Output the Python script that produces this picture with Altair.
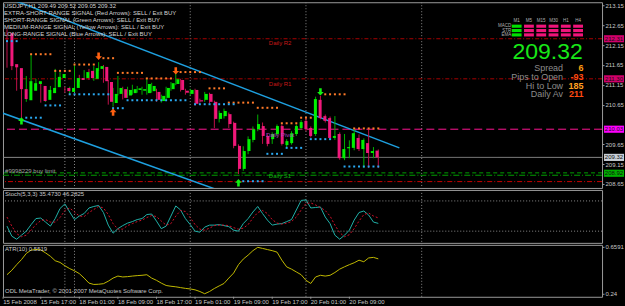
import altair as alt
import pandas as pd

# ---------------- chart values (USDJPY H1, bar 0 = 15 Feb 2008 10:00) ----------------
opens = [212.45, 211.67, 211.57, 211.04, 210.76, 211.00, 211.17, 211.12, 210.77, 210.94,
         211.09, 211.32, 211.07, 210.97, 211.07, 211.32, 211.32, 211.50, 211.30, 211.55,
         211.60, 211.22, 210.69, 210.92, 211.04, 210.88, 210.94, 211.02, 211.00, 210.94,
         210.99, 210.97, 210.74, 210.82, 211.04, 211.17, 211.27, 211.00, 210.92, 211.02,
         210.76, 210.77, 210.92, 210.72, 210.29, 210.36, 210.41, 210.19, 209.61, 209.03,
         209.48, 209.76, 210.03, 210.11, 209.86, 209.78, 209.91, 210.11, 209.63, 209.68,
         209.91, 210.06, 210.24, 210.06, 209.91, 210.77, 210.36, 210.31, 209.81, 209.91,
         209.30, 209.55, 209.56, 209.81, 209.53, 209.68, 209.43, 209.49]
highs = [212.55, 211.85, 211.62, 211.10, 211.37, 211.92, 211.30, 211.20, 211.05, 211.12,
         211.55, 211.47, 211.10, 211.10, 211.67, 211.40, 211.52, 211.55, 211.62, 211.72,
         211.65, 211.27, 211.07, 211.37, 211.10, 211.10, 211.15, 211.12, 211.10, 211.32,
         211.20, 211.05, 210.90, 211.10, 211.22, 211.50, 211.30, 211.05, 211.05, 211.05,
         210.80, 210.97, 210.95, 210.75, 210.50, 210.55, 210.45, 210.22, 209.65, 209.60,
         209.85, 210.10, 210.40, 210.20, 209.90, 209.95, 210.15, 210.15, 209.78, 209.98,
         210.15, 210.26, 210.30, 210.10, 210.85, 210.87, 210.40, 210.35, 210.36, 209.95,
         209.91, 209.75, 210.06, 209.90, 209.80, 210.06, 209.58, 209.52]
lows = [211.58, 211.52, 211.00, 210.31, 210.72, 210.95, 211.10, 210.70, 210.72, 210.90,
        211.05, 211.28, 210.95, 210.92, 211.02, 211.22, 211.28, 211.27, 211.25, 211.50,
        211.20, 210.65, 210.60, 210.88, 210.78, 210.82, 210.90, 210.95, 210.90, 210.90,
        210.95, 210.72, 210.70, 210.78, 211.00, 211.14, 210.98, 210.90, 210.88, 210.62,
        210.70, 210.72, 210.68, 210.06, 210.20, 210.30, 210.06, 209.55, 208.90, 208.98,
        209.40, 209.70, 209.98, 209.66, 209.60, 209.66, 209.86, 209.62, 209.58, 209.64,
        209.86, 210.02, 209.98, 209.82, 209.86, 210.28, 210.20, 209.76, 209.76, 209.26,
        209.25, 209.30, 209.50, 209.48, 209.05, 209.05, 209.30, 209.05]
closes = [211.62, 211.59, 211.04, 210.79, 211.24, 211.19, 211.24, 210.74, 211.02, 211.07,
          211.35, 211.42, 210.99, 211.07, 211.32, 211.27, 211.47, 211.32, 211.57, 211.62,
          211.24, 210.72, 210.92, 211.07, 210.82, 211.02, 211.04, 211.06, 211.04, 211.17,
          211.12, 210.77, 210.87, 211.07, 211.19, 211.29, 211.02, 210.95, 211.02, 210.67,
          210.73, 210.92, 210.72, 210.29, 210.44, 210.49, 210.16, 209.61, 209.03, 209.48,
          209.78, 210.03, 210.16, 209.86, 209.66, 209.91, 210.11, 209.66, 209.73, 209.93,
          210.11, 210.21, 210.03, 209.86, 210.79, 210.31, 210.24, 209.81, 209.86, 209.30,
          209.53, 209.58, 209.93, 209.53, 209.76, 209.43, 209.48, 209.32]

stoch_k = [30, 10, 4, 12, 20, 33, 45, 46, 38, 30,
           45, 65, 74, 58, 43, 50, 55, 66, 69, 71,
           57, 32, 16, 25, 31, 36, 39, 43, 45, 53,
           54, 40, 25, 30, 50, 70, 62, 45, 33, 20,
           18, 28, 32, 32, 33, 31, 29, 22, 20, 35,
           45, 58, 69, 55, 42, 32, 34, 35, 39, 43,
           62, 81, 82, 66, 67, 68, 48, 35, 12, 4,
           12, 22, 42, 57, 60, 52, 38, 35.4730]
stoch_d = [48, 30, 15, 9, 12, 22, 33, 41, 43, 38,
           38, 47, 61, 66, 58, 50, 49, 57, 63, 69,
           66, 53, 35, 24, 24, 31, 35, 39, 42, 47,
           51, 49, 40, 32, 35, 50, 61, 59, 47, 33,
           24, 22, 26, 31, 32, 32, 31, 27, 24, 26,
           33, 46, 57, 61, 55, 43, 36, 34, 36, 39,
           48, 62, 75, 76, 72, 67, 61, 50, 32, 17,
           9, 13, 25, 40, 53, 56, 50, 46.2825]
atr10 = [0.41, 0.45, 0.50, 0.545, 0.60, 0.63, 0.636, 0.632, 0.605, 0.575,
         0.535, 0.52, 0.49, 0.465, 0.445, 0.42, 0.38, 0.335, 0.323, 0.325,
         0.33, 0.352, 0.38, 0.398, 0.39, 0.393, 0.398, 0.402, 0.405, 0.41,
         0.38, 0.36, 0.335, 0.314, 0.307, 0.302, 0.295, 0.288, 0.283, 0.275,
         0.26, 0.24, 0.26, 0.287, 0.31, 0.332, 0.38, 0.425, 0.50, 0.55,
         0.585, 0.625, 0.655, 0.645, 0.635, 0.625, 0.612, 0.54, 0.48, 0.46,
         0.435, 0.41, 0.36, 0.332, 0.39, 0.405, 0.398, 0.405, 0.43, 0.46,
         0.481, 0.50, 0.517, 0.54, 0.526, 0.56, 0.565, 0.5519]

date_ticks = [-0.8, 7, 15, 23, 31, 39, 47, 55, 63, 71]
date_labels = ["15 Feb 2008", "15 Feb 17:00", "18 Feb 01:00", "18 Feb 09:00", "18 Feb 17:00",
               "19 Feb 01:00", "19 Feb 09:00", "19 Feb 17:00", "20 Feb 01:00", "20 Feb 09:00"]
price_ticks = [208.65, 209.15, 209.65, 210.65, 211.15, 211.65, 212.15, 212.65, 213.15]
stoch_ticks = [0, 20, 80, 100]
stoch_levels = [20, 80]
atr_ticks = [0.24, 0.6591]
separator_bars = [12, 14, 38, 62, 86]

level_names = ["R2", "R1", "Pivot", "Bid", "BuyLimit", "S1", "S2"]
level_prices = [212.31, 211.30, 210.03, 209.32, 208.93, 208.87, 208.71]

box_prices = [212.31, 211.30, 210.03, 209.32, 208.92]
box_kind = ["res", "res", "pivot", "bid", "buy"]

channel_line = ["upper", "upper", "lower", "lower"]
channel_bar = [1.86, 81.37, -1.24, 45.3]
channel_price = [213.26, 209.56, 210.45, 208.43]

sell_stop_from = [5, 10, 14, 20, 23, 29, 36, 42, 46, 52, 57, 61, 66, 72]
sell_stop_to = [9, 13, 18, 22, 28, 34, 40, 45, 51, 56, 60, 63, 70, 77]
sell_stop_price = [211.92, 211.50, 211.66, 211.82, 211.45, 211.31, 211.47, 211.06,
                   210.70, 210.57, 210.18, 210.32, 210.91, 210.05]
buy_stop_from = [0, 4, 8, 13, 22, 25, 39, 49, 54, 58, 63, 70]
buy_stop_to = [2, 7, 11, 21, 24, 37, 47, 53, 57, 61, 67, 77]
buy_stop_price = [212.25, 210.32, 210.63, 210.91, 210.56, 210.76, 210.66, 208.72,
                  209.41, 209.56, 209.78, 209.09]

arrow_bar = [3, 19, 22, 35, 48, 65]
arrow_price = [210.24, 211.87, 210.46, 211.50, 208.68, 210.97]
arrow_dir = ["up", "down", "up", "down", "up", "down"]
arrow_kind = ["short", "extra", "extra", "extra", "short", "short"]

label_text = ["Daily R2", "Daily R1", "Daily Pivot", "Daily S1", "#9998229 buy limit"]
label_bar = [54.3, 54.3, 53.7, 54.3, -0.4]
label_price = [212.20, 211.17, 209.88, 208.84, 208.97]
label_kind = ["res", "res", "pivot", "sup", "order"]

signal_lines = [
    "USDJPY,H1  %.2f %.2f %.2f %.2f" % (opens[-1], highs[-1], lows[-1], closes[-1]),
    "EXTRA-SHORT-RANGE SIGNAL (Red Arrows): SELL / Exit BUY",
    "SHORT-RANGE SIGNAL (Green Arrows): SELL / Exit BUY",
    "MEDIUM-RANGE SIGNAL (Yellow Arrows): SELL / Exit BUY",
    "LONG-RANGE SIGNAL (Blue Arrows): SELL / Exit BUY",
]
tf_cols = ["M1", "M5", "M15", "M30", "H1", "H4"]
tf_rows = ["MACD", "STR", "EMA"]
tf_buy_cols = ["M1"]

info_labels = ["Spread", "Pips to Open", "Hi to Low", "Daily Av"]
info_values = [6, -93, 185, 211]

stoch_label = "Stoch(5,3,3) %.4f %.4f" % (stoch_k[-1], stoch_d[-1])
atr_label = "ATR(10) %.4f" % atr10[-1]
copyright_label = "ODL MetaTrader, \u00a9 2001-2007 MetaQuotes Software Corp."

# ---------------- styles ----------------
FONT = "Liberation Sans"
GRAY = "#c8c8c8"
W = 600
H_MAIN, H_ST, H_ATR = 186, 53, 52

xs = alt.Scale(domain=[-0.83, 123.4], nice=False, zero=False)
ps = alt.Scale(domain=[208.55, 213.23], nice=False, zero=False)
sts = alt.Scale(domain=[-3.2, 101.8], nice=False, zero=False)
ats = alt.Scale(domain=[0.213, 0.677], nice=False, zero=False)

level_style = {
    "R2": ("#a80000", [4, 2, 1, 2]),
    "R1": ("#a80000", [4, 2, 1, 2]),
    "Pivot": ("#ff1493", [8, 4]),
    "Bid": ("#8c8c8c", [1, 0]),
    "BuyLimit": ("#00a000", [4, 3]),
    "S1": ("#00a000", [6, 2, 1, 2]),
    "S2": ("#c80000", [5, 2, 1, 2]),
}


def bx(field="bar:Q"):
    return alt.X(field, scale=xs, axis=None)


def py(field, axis=None):
    if axis is None:
        return alt.Y(field, scale=ps, axis=None)
    return alt.Y(field, scale=ps, axis=axis)


def right_axis(values, **kw):
    return alt.Axis(orient="right", values=values, title=None, domain=False, grid=False,
                    tickSize=2, tickColor="#9a9a9a", labelColor=GRAY, labelFontSize=6,
                    labelFont=FONT, labelPadding=1, labelOverlap=False, labelFlush=False,
                    **kw)


# ---------------- data frames ----------------
n = len(opens)
candles = pd.DataFrame({"bar": list(range(n)), "open": opens, "high": highs,
                        "low": lows, "close": closes})
candles["dir"] = ["up" if c >= o else "down" for o, c in zip(opens, closes)]

sep_df = pd.DataFrame({"bar": separator_bars})
levels_df = pd.DataFrame({"name": level_names, "price": level_prices})
channel_df = pd.DataFrame({"line": channel_line, "bar": channel_bar, "price": channel_price})

dot_rows = []
for a, b, p in zip(sell_stop_from, sell_stop_to, sell_stop_price):
    for i in range(a, b + 1):
        dot_rows.append({"bar": i, "price": p, "kind": "sell"})
for a, b, p in zip(buy_stop_from, buy_stop_to, buy_stop_price):
    for i in range(a, b + 1):
        dot_rows.append({"bar": i, "price": p, "kind": "buy"})
dots_df = pd.DataFrame(dot_rows)

arrows_df = pd.DataFrame({"bar": arrow_bar, "price": arrow_price, "dir": arrow_dir,
                          "kind": arrow_kind})
labels_df = pd.DataFrame({"bar": label_bar, "price": label_price, "text": label_text,
                          "kind": label_kind})
boxes_df = pd.DataFrame({"price": box_prices, "kind": box_kind})
header_df = pd.DataFrame({"row": list(range(len(signal_lines))), "text": signal_lines})

grid_rows = []
for r, rn in enumerate(tf_rows):
    for c, cn in enumerate(tf_cols):
        grid_rows.append({"row": r, "col": c, "state": "buy" if cn in tf_buy_cols else "sell"})
grid_df = pd.DataFrame(grid_rows)
col_df = pd.DataFrame({"col": list(range(len(tf_cols))), "name": tf_cols})
rowlab_df = pd.DataFrame({"row": list(range(len(tf_rows))), "name": tf_rows})
info_df = pd.DataFrame({"row": list(range(len(info_labels))), "label": info_labels,
                        "value": [str(v) for v in info_values]})
bid_df = pd.DataFrame({"price": [closes[-1]]})

ind_df = pd.DataFrame({"bar": list(range(n)), "k": stoch_k, "d": stoch_d, "atr": atr10})
stlev_df = pd.DataFrame({"lvl": stoch_levels})
dates_df = pd.DataFrame({"bar": date_ticks, "label": date_labels})

# ---------------- main price panel ----------------
vgrid = alt.Chart(sep_df).mark_rule(color="#8a8a8a", strokeDash=[1, 2], strokeWidth=1).encode(x=bx())

level_layers = []
for nm in level_names:
    col, dash = level_style[nm]
    level_layers.append(
        alt.Chart(levels_df).transform_filter(alt.datum.name == nm)
        .mark_rule(color=col, strokeDash=dash, strokeWidth=1)
        .encode(y=py("price:Q"))
    )

channel = alt.Chart(channel_df).mark_line(color="#1ea0e0", strokeWidth=1.5, clip=True).encode(
    x=bx(), y=py("price:Q"), detail="line:N")

wicks = alt.Chart(candles).mark_rule(strokeWidth=1).encode(
    x=bx(),
    y=py("low:Q", right_axis(price_ticks, format=".2f")),
    y2="high:Q",
    color=alt.Color("dir:N", scale=alt.Scale(domain=["up", "down"], range=["#00b000", "#c0104a"]),
                    legend=None),
)
bodies = alt.Chart(candles).mark_bar(size=3).encode(
    x=bx(), y=py("open:Q"), y2="close:Q",
    color=alt.Color("dir:N", scale=alt.Scale(domain=["up", "down"], range=["#00f000", "#f0187a"]),
                    legend=None),
)

dots = alt.Chart(dots_df).mark_square(size=4, opacity=1).encode(
    x=bx(), y=py("price:Q"),
    color=alt.Color("kind:N", scale=alt.Scale(domain=["sell", "buy"], range=["#ff7a28", "#2aa8f0"]),
                    legend=None),
)

up_path = "M0,-1L0.9,0L0.35,0L0.35,1L-0.35,1L-0.35,0L-0.9,0Z"
down_path = "M0,1L0.9,0L0.35,0L0.35,-1L-0.35,-1L-0.35,0L-0.9,0Z"
arrows = alt.Chart(arrows_df).mark_point(filled=True, size=55, opacity=1, strokeWidth=0).encode(
    x=bx(), y=py("price:Q"),
    shape=alt.Shape("dir:N", scale=alt.Scale(domain=["up", "down"], range=[up_path, down_path]),
                    legend=None),
    color=alt.Color("kind:N", scale=alt.Scale(domain=["extra", "short"], range=["#ff6010", "#10f010"]),
                    legend=None),
)

line_labels = alt.Chart(labels_df).mark_text(align="left", baseline="middle", fontSize=6,
                                             font=FONT).encode(
    x=bx(), y=py("price:Q"), text="text:N",
    color=alt.Color("kind:N", scale=alt.Scale(domain=["res", "pivot", "sup", "order"],
                                              range=["#c81818", "#b040c0", "#10b010", "#a0a0a0"]),
                    legend=None),
)

boxes = alt.Chart(boxes_df).transform_calculate(
    top="datum.price + 0.09", bot="datum.price - 0.09"
).mark_rect(clip=False).encode(
    x=alt.value(602), x2=alt.value(622),
    y=py("top:Q"), y2="bot:Q",
    color=alt.Color("kind:N", scale=alt.Scale(domain=["res", "pivot", "bid", "buy"],
                                              range=["#d0006a", "#ff00ff", "#c8d0d8", "#00b000"]),
                    legend=None),
)
box_text = alt.Chart(boxes_df).mark_text(align="center", baseline="middle", fontSize=6,
                                         font=FONT, color="#101010", clip=False).encode(
    x=alt.value(612), y=py("price:Q"), text=alt.Text("price:Q", format=".2f"))

header = alt.Chart(header_df).mark_text(align="left", baseline="middle", fontSize=6, font=FONT,
                                        color="#d4d4d4").encode(
    x=alt.value(1),
    y=alt.Y("row:Q", scale=alt.Scale(domain=[0, 4], range=[4, 32.3]), axis=None),
    text="text:N")

colx = alt.Scale(domain=[0, 5], range=[514.5, 576])
rowy = alt.Scale(domain=[0, 2], range=[24, 32.7])
cells = alt.Chart(grid_df).transform_calculate(
    c0="datum.col - 0.4", c1="datum.col + 0.4", r0="datum.row - 0.36", r1="datum.row + 0.36"
).mark_rect().encode(
    x=alt.X("c0:Q", scale=colx, axis=None), x2="c1:Q",
    y=alt.Y("r0:Q", scale=rowy, axis=None), y2="r1:Q",
    color=alt.Color("state:N", scale=alt.Scale(domain=["buy", "sell"], range=["#00e000", "#f0147a"]),
                    legend=None),
)
col_heads = alt.Chart(col_df).mark_text(align="center", baseline="middle", fontSize=4.5, font=FONT,
                                        color="#b0b0b0").encode(
    x=alt.X("col:Q", scale=colx, axis=None), y=alt.value(19), text="name:N")
row_heads = alt.Chart(rowlab_df).mark_text(align="right", baseline="middle", fontSize=4.5, font=FONT,
                                           color="#b0b0b0").encode(
    x=alt.value(509), y=alt.Y("row:Q", scale=rowy, axis=None), text="name:N")

big_bid = alt.Chart(bid_df).mark_text(align="center", baseline="middle", fontSize=23, font=FONT,
                                      color="#18e818").encode(
    x=alt.value(545.5), y=alt.value(49.5), text=alt.Text("price:Q", format=".2f"))

infoy = alt.Scale(domain=[0, 3], range=[66, 92.4])
info_lab = alt.Chart(info_df).mark_text(align="right", baseline="middle", fontSize=9, font=FONT,
                                        color="#8c8c8c").encode(
    x=alt.value(561), y=alt.Y("row:Q", scale=infoy, axis=None), text="label:N")
info_val = alt.Chart(info_df).mark_text(align="right", baseline="middle", fontSize=9, font=FONT,
                                        fontWeight="bold").encode(
    x=alt.value(581.5), y=alt.Y("row:Q", scale=infoy, axis=None), text="value:N",
    color=alt.Color("label:N", scale=alt.Scale(domain=info_labels,
                                               range=["#ff9c10", "#ff4a10", "#ffa020", "#ff4a10"]),
                    legend=None),
)

main = alt.layer(
    vgrid, *level_layers, channel, wicks, bodies, dots, arrows, line_labels,
    boxes, box_text, header, cells, col_heads, row_heads, big_bid, info_lab, info_val,
).resolve_scale(
    x="independent", y="independent", color="independent", shape="independent"
).properties(width=W, height=H_MAIN)

# ---------------- stochastic panel ----------------
st_grid = alt.Chart(stlev_df).mark_rule(color="#8a8a8a", strokeDash=[1, 2]).encode(
    y=alt.Y("lvl:Q", scale=sts, axis=None))
st_k = alt.Chart(ind_df).mark_line(color="#20b0a8", strokeWidth=1).encode(
    x=bx(), y=alt.Y("k:Q", scale=sts, axis=right_axis(stoch_ticks)))
st_d = alt.Chart(ind_df).mark_line(color="#d0102a", strokeWidth=1, strokeDash=[2, 2]).encode(
    x=bx(), y=alt.Y("d:Q", scale=sts))
st_text = alt.Chart(pd.DataFrame({"t": [stoch_label]})).mark_text(
    align="left", baseline="middle", fontSize=6, font=FONT, color=GRAY).encode(
    x=alt.value(2), y=alt.value(4.5), text="t:N")
stoch = alt.layer(vgrid, st_grid, st_k, st_d, st_text).properties(width=W, height=H_ST)

# ---------------- ATR panel ----------------
atr_line = alt.Chart(ind_df).mark_line(color="#c0b800", strokeWidth=1).encode(
    x=bx(),
    y=alt.Y("atr:Q", scale=ats, axis=right_axis(atr_ticks, labelExpr="'' + datum.value")),
)
atr_text = alt.Chart(pd.DataFrame({"t": [atr_label]})).mark_text(
    align="left", baseline="middle", fontSize=6, font=FONT, color=GRAY).encode(
    x=alt.value(2), y=alt.value(4.5), text="t:N")
copy_text = alt.Chart(pd.DataFrame({"t": [copyright_label]})).mark_text(
    align="left", baseline="middle", fontSize=6, font=FONT, color=GRAY).encode(
    x=alt.value(2), y=alt.value(46.5), text="t:N")
date_ticks_mark = alt.Chart(dates_df).mark_rule(color="#9a9a9a", clip=False).encode(
    x=bx(), y=alt.value(H_ATR), y2=alt.value(H_ATR + 2))
date_text = alt.Chart(dates_df).mark_text(
    align="left", baseline="top", fontSize=6, font=FONT, color=GRAY, clip=False).encode(
    x=bx(), y=alt.value(H_ATR + 2), text="label:N")
atr = alt.layer(vgrid, atr_line, atr_text, copy_text, date_ticks_mark, date_text).properties(
    width=W, height=H_ATR)

chart = alt.vconcat(main, stoch, atr, spacing=2, bounds="flush").properties(
    background="#000000",
    padding={"left": 2, "top": 1, "right": 0, "bottom": 0},
).configure_view(stroke="#9a9a9a", strokeWidth=1)

chart.save("out.html", embed_options={"renderer": "svg", "actions": False})
